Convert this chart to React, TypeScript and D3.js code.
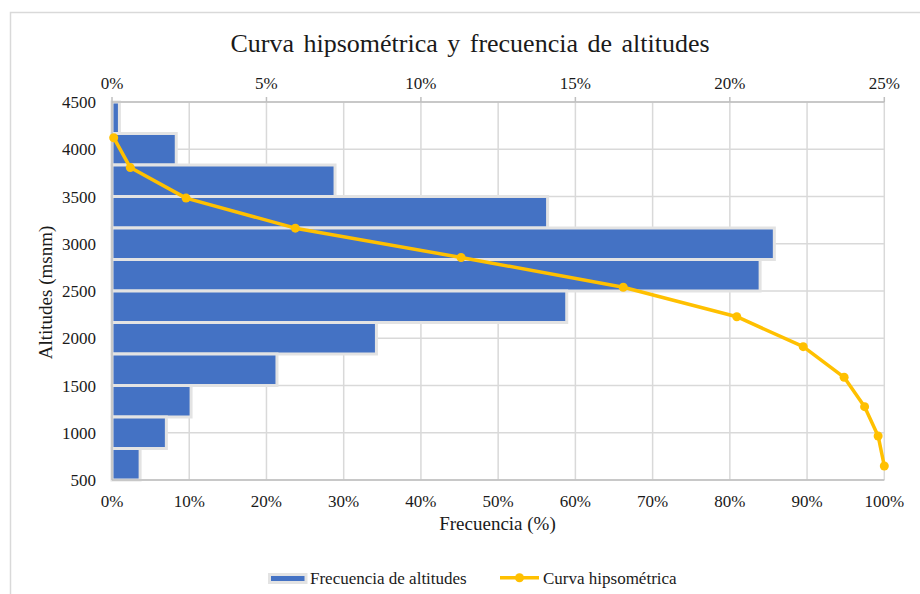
import React from "react";
import * as d3 from "d3";

// Frecuencia de altitudes (%) por clase, de la clase más alta a la más baja
const clases = ["C1", "C2", "C3", "C4", "C5", "C6", "C7", "C8", "C9", "C10", "C11", "C12"];
const frecuencia = [0.24, 2.08, 7.22, 14.1, 21.44, 20.98, 14.72, 8.56, 5.34, 2.56, 1.76, 0.91];

// Curva hipsométrica: área acumulada (%) vs altitud (msnm)
const curvaAcumulado = [0.22, 2.37, 9.59, 23.74, 45.2, 66.2, 80.9, 89.5, 94.8, 97.45, 99.2, 100];
const curvaAltitud = [4122, 3806, 3483, 3165, 2855, 2540, 2228, 1911, 1587, 1276, 966, 648];

const ticksAltitud = [500, 1000, 1500, 2000, 2500, 3000, 3500, 4000, 4500];
const ticksAcumulado = [0, 10, 20, 30, 40, 50, 60, 70, 80, 90, 100];
const ticksFrecuencia = [0, 5, 10, 15, 20, 25];

const titulo = "Curva hipsométrica y frecuencia de altitudes";
const tituloX = "Frecuencia (%)";
const tituloY = "Altitudes (msnm)";
const leyendaBarras = "Frecuencia de altitudes";
const leyendaCurva = "Curva hipsométrica";

const W = 920;
const H = 594;
const FONT = "Liberation Serif, Times New Roman, serif";
const TXT = "#1a1a1a";

export default function App() {
  const left = 112;
  const right = 884.3;
  const top = 102;
  const bottom = 480;

  const xBottom = d3.scaleLinear().domain([0, 100]).range([left, right]);
  const xTop = d3.scaleLinear().domain([0, 25]).range([left, right]);
  const y = d3.scaleLinear().domain([500, 4500]).range([bottom, top]);
  const band = d3.scaleBand<string>().domain(clases).range([top, bottom]).padding(0);

  const linePath = d3
    .line<number>()
    .x((_, i) => xBottom(curvaAcumulado[i]))
    .y((d) => y(d))(curvaAltitud) as string;

  const gridColor = "#d9d9d9";
  const axisColor = "#bfbfbf";

  return (
    <div style={{ position: "fixed", left: 0, top: 0, width: W, height: H, background: "#fff" }}>
      <svg width={W} height={H} style={{ display: "block" }} fontFamily={FONT}>
        <rect x={0} y={0} width={W} height={H} fill="#fff" />
        <rect x={10.5} y={12.5} width={W + 20} height={H + 20} fill="#fff" stroke="#d9d9d9" strokeWidth={1.5} />

        {/* Title */}
        <text x={470} y={52} textAnchor="middle" fontSize={26} wordSpacing={3} fill={TXT} fontFamily={FONT}>
          {titulo}
        </text>

        {/* Vertical gridlines */}
        {ticksAcumulado.map((t) => (
          <line key={"gv" + t} x1={xBottom(t)} x2={xBottom(t)} y1={top} y2={bottom} stroke={gridColor} strokeWidth={1.5} />
        ))}
        {/* Horizontal gridlines */}
        {ticksAltitud.map((t) => (
          <line key={"gh" + t} x1={left} x2={right} y1={y(t)} y2={y(t)} stroke={gridColor} strokeWidth={1.5} />
        ))}

        {/* Bars */}
        {frecuencia.map((v, i) => (
          <rect
            key={"b" + i}
            x={xTop(0)}
            y={band(clases[i])!}
            width={xTop(v) - xTop(0)}
            height={band.bandwidth()}
            fill="#4472c4"
            stroke="#e3e3e3"
            strokeWidth={3}
          />
        ))}

        {/* Axes lines */}
        <line x1={left} x2={right} y1={top} y2={top} stroke={axisColor} strokeWidth={1.5} />
        <line x1={left} x2={right} y1={bottom} y2={bottom} stroke={axisColor} strokeWidth={1.5} />
        <line x1={left} x2={left} y1={top} y2={bottom} stroke={axisColor} strokeWidth={1.5} />
        {ticksFrecuencia.map((t) => (
          <line key={"tt" + t} x1={xTop(t)} x2={xTop(t)} y1={top - 5} y2={top} stroke={axisColor} strokeWidth={1.5} />
        ))}

        {/* Curve */}
        <path d={linePath} fill="none" stroke="#ffc000" strokeWidth={3.5} strokeLinejoin="round" />
        {curvaAltitud.map((a, i) => (
          <circle key={"c" + i} cx={xBottom(curvaAcumulado[i])} cy={y(a)} r={4.5} fill="#ffc000" />
        ))}

        {/* Tick labels */}
        {ticksFrecuencia.map((t) => (
          <text key={"lt" + t} x={xTop(t)} y={89} textAnchor="middle" fontSize={17} fill={TXT} fontFamily={FONT}>
            {t + "%"}
          </text>
        ))}
        {ticksAcumulado.map((t) => (
          <text key={"lb" + t} x={xBottom(t)} y={507} textAnchor="middle" fontSize={17} fill={TXT} fontFamily={FONT}>
            {t + "%"}
          </text>
        ))}
        {ticksAltitud.map((t) => (
          <text key={"ly" + t} x={96} y={y(t) + 6} textAnchor="end" fontSize={17} fill={TXT} fontFamily={FONT}>
            {t}
          </text>
        ))}

        {/* Axis titles */}
        <text x={497.5} y={530} textAnchor="middle" fontSize={19} fill={TXT} fontFamily={FONT}>
          {tituloX}
        </text>
        <text
          transform={`translate(52, 292.5) rotate(-90)`}
          textAnchor="middle"
          fontSize={19}
          fill={TXT}
          fontFamily={FONT}
        >
          {tituloY}
        </text>

        {/* Legend */}
        <rect x={269.5} y={574.5} width={36.5} height={8} fill="#4472c4" stroke="#e3e3e3" strokeWidth={3} />
        <text x={310} y={584} fontSize={17} fill={TXT} fontFamily={FONT}>
          {leyendaBarras}
        </text>
        <line x1={500} x2={539} y1={577.7} y2={577.7} stroke="#ffc000" strokeWidth={3.5} />
        <circle cx={519.5} cy={577.7} r={4.5} fill="#ffc000" />
        <text x={543} y={584} fontSize={17} fill={TXT} fontFamily={FONT}>
          {leyendaCurva}
        </text>
      </svg>
    </div>
  );
}
